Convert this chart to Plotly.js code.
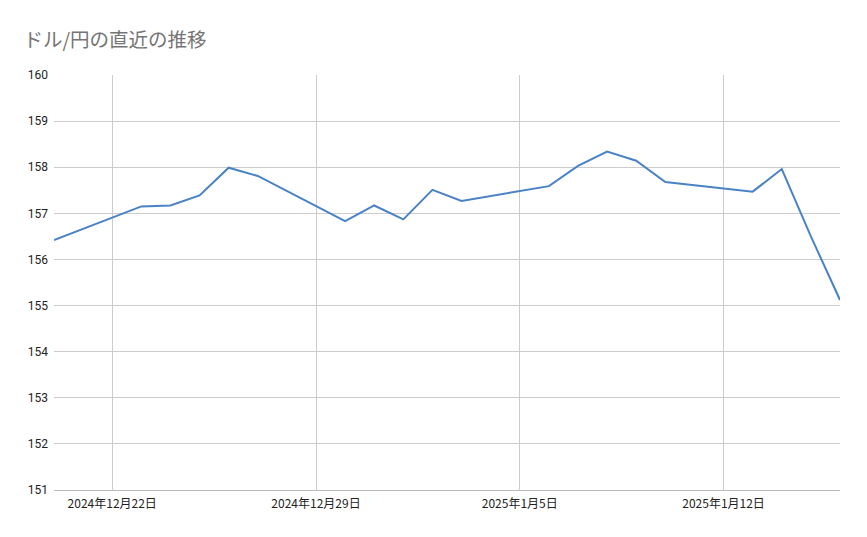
<!DOCTYPE html>
<html><head><meta charset="utf-8">
<script src="https://cdn.plot.ly/plotly-3.0.1.min.js"></script>
<style>body{margin:0;background:#fff}#c{width:867px;height:537px}</style>
</head><body><div id="c"></div>
<script>
const dates = ['2024-12-20','2024-12-23','2024-12-24','2024-12-25','2024-12-26','2024-12-27','2024-12-30','2024-12-31','2025-01-01','2025-01-02','2025-01-03','2025-01-06','2025-01-07','2025-01-08','2025-01-09','2025-01-10','2025-01-13','2025-01-14','2025-01-15','2025-01-16'];
const rates = [156.42,157.15,157.17,157.39,157.99,157.81,156.83,157.17,156.87,157.51,157.27,157.59,158.03,158.34,158.14,157.68,157.47,157.96,156.5,155.12];
const xTickVals = ['2024-12-22','2024-12-29','2025-01-05','2025-01-12'];
const xTickText = ['2024年12月22日','2024年12月29日','2025年1月5日','2025年1月12日'];
const yTickVals = [151,152,153,154,155,156,157,158,159,160];

const font = '"Noto Sans CJK JP", "Noto Sans", Roboto, sans-serif';
const tickFont = 'Roboto, "Noto Sans CJK JP", sans-serif';
Plotly.newPlot('c', [{
  x: dates, y: rates, type: 'scatter', mode: 'lines',
  line: {color: '#4a82c6', width: 2}, hoverinfo: 'skip'
}], {
  width: 867, height: 537,
  margin: {l: 54, r: 27, t: 75, b: 47},
  paper_bgcolor: '#fff', plot_bgcolor: '#fff',
  title: {text: 'ドル/円の直近の推移', x: 0.027, xanchor: 'left', y: 0.925, yanchor: 'middle',
          font: {family: font, size: 19.5, color: '#757575'}},
  xaxis: {type: 'date', range: ['2024-12-20', '2025-01-16'], tickmode: 'array',
          tickvals: xTickVals, ticktext: xTickText, showgrid: true, gridcolor: '#cccccc',
          showline: true, linecolor: '#bbbbbb', zeroline: false, ticks: '',
          ticklabelstandoff: 3,
          tickfont: {family: font, size: 12, color: '#222'}},
  yaxis: {range: [151, 160], tickmode: 'array', tickvals: yTickVals, showgrid: true,
          gridcolor: '#cccccc', zeroline: false, ticks: '', ticklabelstandoff: 5,
          tickfont: {family: tickFont, size: 12, color: '#222'}},
  showlegend: false
}, {displayModeBar: false, staticPlot: true});
</script></body></html>
